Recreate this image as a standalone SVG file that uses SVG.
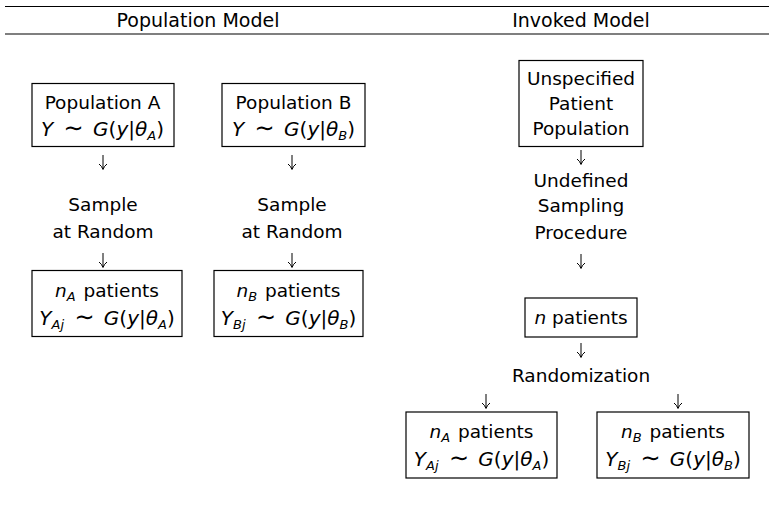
<svg xmlns="http://www.w3.org/2000/svg" width="769" height="506" viewBox="0 0 769 506">
<style>
text{font-family:"DejaVu Sans","Liberation Sans",sans-serif;font-size:18.5px;fill:#000;text-anchor:middle}
.h{font-size:19px}
.m{font-size:20px}
.i{font-style:italic}
.s{font-size:13px}
.t{font-size:24px}
rect{fill:#fff;stroke:#000;stroke-width:1.2}
.rule{stroke:#000;stroke-width:1.2}
.arr{fill:none;stroke:#000;stroke-width:1}
</style>
<defs>
<g id="dn"><path class="arr" d="M0,0 V14 M-4,9 Q-1.2,11 0,14.5 Q1.2,11 4,9"/></g>
</defs>
<line class="rule" x1="5" y1="6.5" x2="769" y2="6.5"/>
<line class="rule" x1="5" y1="34" x2="769" y2="34"/>
<text class="h" x="198" y="27">Population Model</text>
<text class="h" x="581" y="27">Invoked Model</text>

<g id="popA">
<rect x="32" y="83.5" width="142" height="63"/>
<text x="102.5" y="109">Population A</text>
<text class="m" x="102.5" y="136"><tspan class="i">Y</tspan><tspan dx="4"> </tspan><tspan class="t">∼</tspan><tspan> </tspan><tspan class="i" dx="3">G</tspan>(<tspan class="i">y</tspan>|<tspan class="i">θ</tspan><tspan class="i s" dy="4">A</tspan><tspan dy="-4">)</tspan></text>
</g>
<g id="popB">
<rect x="222" y="83.5" width="143" height="63"/>
<text x="293.5" y="109">Population B</text>
<text class="m" x="293.5" y="136"><tspan class="i">Y</tspan><tspan dx="4"> </tspan><tspan class="t">∼</tspan><tspan> </tspan><tspan class="i" dx="3">G</tspan>(<tspan class="i">y</tspan>|<tspan class="i">θ</tspan><tspan class="i s" dy="4">B</tspan><tspan dy="-4">)</tspan></text>
</g>
<g id="sampleA">
<text x="103" y="211">Sample</text>
<text x="103" y="238">at Random</text>
</g>
<g id="sampleB">
<text x="292" y="211">Sample</text>
<text x="292" y="238">at Random</text>
</g>
<g id="nA">
<rect x="32" y="270.5" width="150" height="66"/>
<text x="107" y="297"><tspan class="i">n</tspan><tspan class="i s" dy="4">A</tspan><tspan dy="-4" dx="2"> patients</tspan></text>
<text class="m" x="107" y="325"><tspan class="i">Y</tspan><tspan class="i s" dy="4">Aj</tspan><tspan dy="-4" dx="4"> </tspan><tspan class="t">∼</tspan><tspan> </tspan><tspan class="i" dx="3">G</tspan>(<tspan class="i">y</tspan>|<tspan class="i">θ</tspan><tspan class="i s" dy="4">A</tspan><tspan dy="-4">)</tspan></text>
</g>
<g id="nB">
<rect x="214" y="270.5" width="149" height="66"/>
<text x="288.5" y="297"><tspan class="i">n</tspan><tspan class="i s" dy="4">B</tspan><tspan dy="-4" dx="2"> patients</tspan></text>
<text class="m" x="288.5" y="325"><tspan class="i">Y</tspan><tspan class="i s" dy="4">Bj</tspan><tspan dy="-4" dx="4"> </tspan><tspan class="t">∼</tspan><tspan> </tspan><tspan class="i" dx="3">G</tspan>(<tspan class="i">y</tspan>|<tspan class="i">θ</tspan><tspan class="i s" dy="4">B</tspan><tspan dy="-4">)</tspan></text>
</g>

<g id="unspec">
<rect x="519" y="60.5" width="124" height="86"/>
<text x="581" y="85">Unspecified</text>
<text x="581" y="110">Patient</text>
<text x="581" y="135">Population</text>
</g>
<g id="undef">
<text x="581" y="187">Undefined</text>
<text x="581" y="212">Sampling</text>
<text x="581" y="239">Procedure</text>
</g>
<g id="npat">
<rect x="525" y="298" width="112" height="39"/>
<text x="581" y="324"><tspan class="i">n</tspan> patients</text>
</g>
<g id="rand">
<text x="581" y="382">Randomization</text>
</g>
<g id="nA2">
<rect x="406" y="412" width="151" height="66"/>
<text x="481.5" y="438"><tspan class="i">n</tspan><tspan class="i s" dy="4">A</tspan><tspan dy="-4" dx="2"> patients</tspan></text>
<text class="m" x="481.5" y="466"><tspan class="i">Y</tspan><tspan class="i s" dy="4">Aj</tspan><tspan dy="-4" dx="4"> </tspan><tspan class="t">∼</tspan><tspan> </tspan><tspan class="i" dx="3">G</tspan>(<tspan class="i">y</tspan>|<tspan class="i">θ</tspan><tspan class="i s" dy="4">A</tspan><tspan dy="-4">)</tspan></text>
</g>
<g id="nB2">
<rect x="597" y="412" width="152" height="66"/>
<text x="673" y="438"><tspan class="i">n</tspan><tspan class="i s" dy="4">B</tspan><tspan dy="-4" dx="2"> patients</tspan></text>
<text class="m" x="673" y="466"><tspan class="i">Y</tspan><tspan class="i s" dy="4">Bj</tspan><tspan dy="-4" dx="4"> </tspan><tspan class="t">∼</tspan><tspan> </tspan><tspan class="i" dx="3">G</tspan>(<tspan class="i">y</tspan>|<tspan class="i">θ</tspan><tspan class="i s" dy="4">B</tspan><tspan dy="-4">)</tspan></text>
</g>

<g id="connectors">
<use href="#dn" x="103" y="155"/>
<use href="#dn" x="103" y="253"/>
<use href="#dn" x="292" y="155"/>
<use href="#dn" x="292" y="253"/>
<use href="#dn" x="581" y="150"/>
<use href="#dn" x="581" y="254"/>
<use href="#dn" x="581" y="343"/>
<use href="#dn" x="486" y="394"/>
<use href="#dn" x="678" y="394"/>
</g>
</svg>
